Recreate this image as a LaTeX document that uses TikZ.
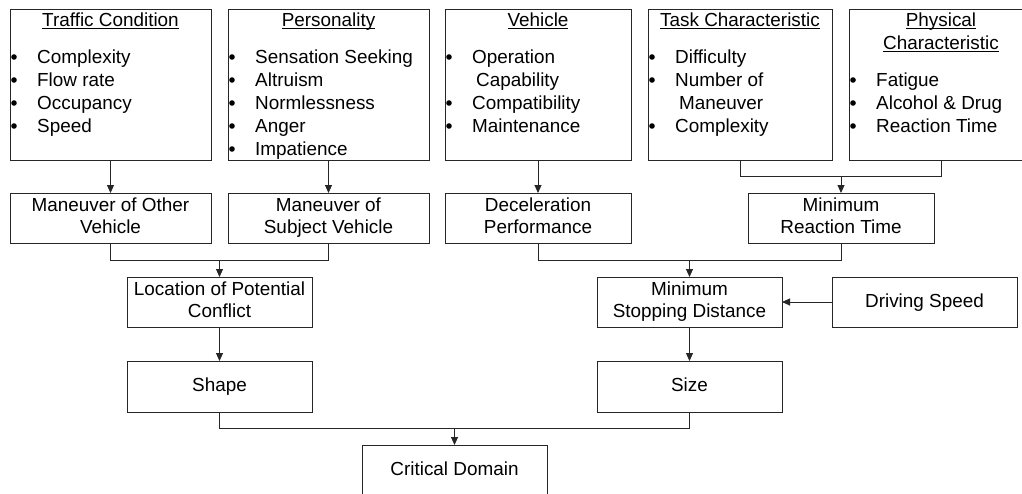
\documentclass[tikz,border=0pt]{standalone}
\usepackage{fontspec}
\setmainfont{Liberation Sans}
\usetikzlibrary{arrows.meta}
\newcommand{\ulin}[1]{\setbox0\hbox{#1}\rlap{\rule[-2.6pt]{\wd0}{0.9pt}}\box0}
\newcommand{\mystrut}{\rule[-4.2pt]{0pt}{19pt}}
\newcommand{\bitem}[4]{\fill[black] (#2+4,#3) circle (2.8pt); \node[itemtxt] (#1) at (#2+27,#3+6.5) {#4};}
\newcommand{\citem}[4]{\node[itemtxt] (#1) at (#2+31,#3+6.5) {#4};}
\begin{document}
\begin{tikzpicture}[x=1pt,y=-1pt,
  font=\fontsize{18.9}{22}\selectfont,
  box/.style={draw=black!85, line width=0.9pt, rectangle, inner sep=0pt, outer sep=0pt, anchor=north west, align=center,
    execute at begin node=\mystrut, execute at end node=\mystrut},
  itemtxt/.style={anchor=base west, inner sep=0pt},
  ttl/.style={anchor=base, inner sep=0pt},
  conn/.style={draw=black!85, line width=0.9pt},
  arr/.style={conn, -{Triangle[length=8pt,width=7pt]}}]
\useasboundingbox (0,0) rectangle (1022,493);
% top row boxes
\node[box, minimum width=201pt, minimum height=151pt] (tc) at (10,9) {};
\node[box, minimum width=201pt, minimum height=151pt] (pe) at (228,9) {};
\node[box, minimum width=186pt, minimum height=151pt] (ve) at (445,9) {};
\node[box, minimum width=184pt, minimum height=151pt] (ta) at (648,9) {};
\node[box, minimum width=184pt, minimum height=151pt] (ph) at (849,9) {};
% titles
\node[ttl] (tct) at (110.5,26) {\ulin{Traffic Condition}};
\node[ttl] (pet) at (328.5,26) {\ulin{Personality}};
\node[ttl] (vet) at (538,26) {\ulin{Vehicle}};
\node[ttl] (tat) at (740,26) {\ulin{Task Characteristic}};
\node[ttl] (pht1) at (941,26) {\ulin{Physical}};
\node[ttl] (pht2) at (941,49) {\ulin{Characteristic}};
% items
\bitem{tc1}{10}{57}{Complexity}
\bitem{tc2}{10}{80}{Flow rate}
\bitem{tc3}{10}{103}{Occupancy}
\bitem{tc4}{10}{126}{Speed}
\bitem{pe1}{228}{57}{Sensation Seeking}
\bitem{pe2}{228}{80}{Altruism}
\bitem{pe3}{228}{103}{Normlessness}
\bitem{pe4}{228}{126}{Anger}
\bitem{pe5}{228}{149}{Impatience}
\bitem{ve1}{445}{57}{Operation}
\citem{ve1b}{445}{80}{Capability}
\bitem{ve2}{445}{103}{Compatibility}
\bitem{ve3}{445}{126}{Maintenance}
\bitem{ta1}{648}{57}{Difficulty}
\bitem{ta2}{648}{80}{Number of}
\citem{ta2b}{648}{103}{Maneuver}
\bitem{ta3}{648}{126}{Complexity}
\bitem{ph1}{849}{80}{Fatigue}
\bitem{ph2}{849}{103}{Alcohol \& Drug}
\bitem{ph3}{849}{126}{Reaction Time}
% second row
\node[box, minimum width=201pt, minimum height=50pt] (mo) at (10,193) {Maneuver of Other\\Vehicle};
\node[box, minimum width=201pt, minimum height=50pt] (ms) at (228,193) {Maneuver of\\Subject Vehicle};
\node[box, minimum width=186pt, minimum height=50pt] (de) at (445,193) {Deceleration\\Performance};
\node[box, minimum width=186pt, minimum height=50pt] (mr) at (748,193) {Minimum\\Reaction Time};
% third row
\node[box, minimum width=185pt, minimum height=50pt] (lo) at (127,277) {Location of Potential\\Conflict};
\node[box, minimum width=185pt, minimum height=50pt] (sd) at (597,277) {Minimum\\Stopping Distance};
\node[box, minimum width=185pt, minimum height=50pt] (ds) at (832,277) {Driving Speed};
% fourth row
\node[box, minimum width=185pt, minimum height=51pt] (sh) at (127,361) {Shape};
\node[box, minimum width=185pt, minimum height=51pt] (si) at (597,361) {Size};
% bottom
\node[box, minimum width=185pt, minimum height=50pt] (cd) at (362,445) {Critical Domain};
% connectors
\draw[arr] (tc.south) -- (mo.north);
\draw[arr] (pe.south) -- (ms.north);
\draw[arr] (ve.south) -- (de.north);
\draw[conn] (ta.south) -- ++(0,16.5) -| (ph.south);
\draw[arr] (mr.north) ++(0,-16.5) -- (mr.north);
\draw[conn] (mo.south) -- ++(0,17) -| (ms.south);
\draw[arr] (lo.north) ++(0,-17) -- (lo.north);
\draw[conn] (de.south) -- ++(0,17) -| (mr.south);
\draw[arr] (sd.north) ++(0,-17) -- (sd.north);
\draw[arr] (ds.west) -- (sd.east);
\draw[arr] (lo.south) -- (sh.north);
\draw[arr] (sd.south) -- (si.north);
\draw[conn] (sh.south) -- ++(0,16.5) -| (si.south);
\draw[arr] (cd.north) ++(0,-16.5) -- (cd.north);
\end{tikzpicture}
\end{document}
